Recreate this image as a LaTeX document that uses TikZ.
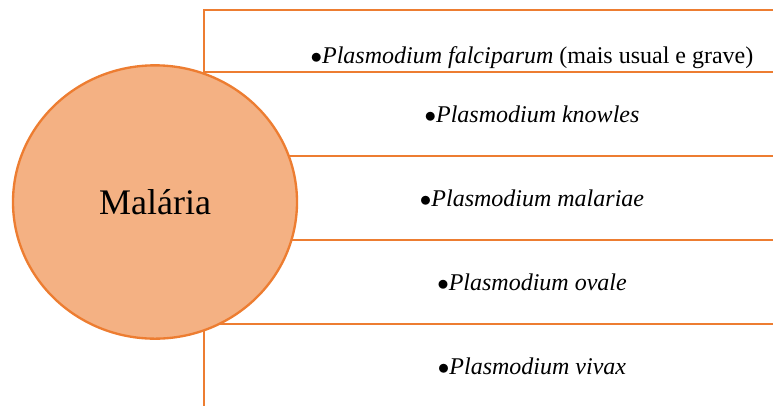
\documentclass[tikz,border=0pt]{standalone}
\usepackage{fontspec}
\setmainfont{Liberation Serif}
\usepackage{xcolor}
\definecolor{malorange}{HTML}{ED7D31}
\definecolor{malfill}{HTML}{F4B183}
\usetikzlibrary{positioning,shapes.geometric}
\tikzset{
  rowbox/.style ={rectangle, draw=malorange, line width=1.75pt, fill=white,
                  minimum width=492pt, minimum height=63pt, outer sep=0pt,
                  inner sep=0pt, font=\fontsize{18}{22}\selectfont},
  item/.style   ={font=\fontsize{18}{22}\selectfont, inner sep=0pt},
  hub/.style    ={ellipse, draw=malorange, line width=1.75pt, fill=malfill,
                  minimum width=213pt, minimum height=205pt,
                  font=\fontsize{27}{32}\selectfont},
}
\newcommand{\spec}[1]{$\bullet$\textit{Plasmodium #1}}

\begin{document}
\begin{tikzpicture}[x=0.75pt, y=-0.75pt]
  \useasboundingbox (0,0) rectangle (773,405);
  \clip (0,0) rectangle (773,405);
  % rows
  \node[rowbox, minimum height=46.5pt, anchor=north west] (r1) at (204,10) {};
  \node[rowbox, below=0mm of r1] (r2) {\spec{knowles}};
  \node[rowbox, below=0mm of r2] (r3) {\spec{malariae}};
  \node[rowbox, below=0mm of r3] (r4) {\spec{ovale}};
  \node[rowbox, below=0mm of r4] (r5) {\spec{vivax}};
  \node[item, anchor=base] (t1) at ([yshift=-17pt]r1.center) {\spec{falciparum} (mais usual e grave)};
  % hub
  \node[hub] (mal) at (155,202) {Malária};
\end{tikzpicture}
\end{document}
